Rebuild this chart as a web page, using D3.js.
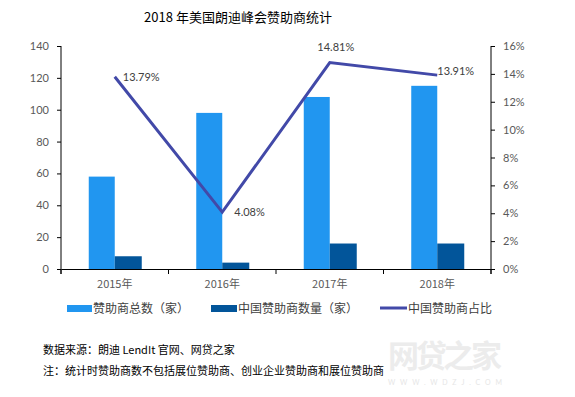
<!DOCTYPE html>
<html><head><meta charset="utf-8">
<script src="https://cdn.jsdelivr.net/npm/d3@7"></script>
<style>body{margin:0;background:#fff}svg{display:block}</style>
</head><body>
<script>
const categories = ["2015年","2016年","2017年","2018年"];
const totalSponsors = [58, 98, 108, 115];
const chinaSponsors = [8, 4, 16, 16];
const chinaShare = [13.79, 4.08, 14.81, 13.91];
const leftTicks = [0,20,40,60,80,100,120,140];
const rightTicks = [0,2,4,6,8,10,12,14,16];
const seriesNames = ["赞助商总数（家）","中国赞助商数量（家）","中国赞助商占比"];
const colors = ["#2196F0","#02559A","#4249A8"];

const W=575,H=397, L=61, R=491, T=46, B=269;
const svg=d3.select("body").append("svg").attr("width",W).attr("height",H);
const numFont="Lato, 'Liberation Sans', sans-serif";
const cjk="'Noto Sans CJK SC', sans-serif";

svg.append("text").attr("x",238).attr("y",22).attr("text-anchor","middle")
  .attr("font-family",cjk).attr("font-size",13).attr("fill","#000").text("2018 年美国朗迪峰会赞助商统计");

const x=d3.scaleBand().domain(categories).range([L,R]);
const yL=d3.scaleLinear().domain([0,140]).range([B,T]);
const yR=d3.scaleLinear().domain([0,16]).range([B,T]);
const bw=26;

const gB=svg.append("g");
gB.selectAll(".t").data(categories).enter().append("rect")
  .attr("x",d=>x(d)+x.bandwidth()/2-bw).attr("width",bw)
  .attr("y",(d,i)=>yL(totalSponsors[i])).attr("height",(d,i)=>B-yL(totalSponsors[i])).attr("fill",colors[0]);
gB.selectAll(".c").data(categories).enter().append("rect")
  .attr("x",d=>x(d)+x.bandwidth()/2).attr("width",bw+1)
  .attr("y",(d,i)=>yL(chinaSponsors[i])).attr("height",(d,i)=>B-yL(chinaSponsors[i])).attr("fill",colors[1]);

// axes
const axL=svg.append("g").attr("transform",`translate(${L},0)`)
  .call(d3.axisLeft(yL).tickValues(leftTicks).tickSize(4).tickSizeOuter(0).tickPadding(8));
const axR=svg.append("g").attr("transform",`translate(${R},0)`)
  .call(d3.axisRight(yR).tickValues(rightTicks).tickSize(4).tickSizeOuter(0).tickPadding(8).tickFormat(d=>d+"%"));
const axX=svg.append("g").attr("transform",`translate(0,${B})`)
  .call(d3.axisBottom(x).tickSize(0).tickPadding(11));
const bounds=categories.map(c=>x(c)).concat([R]);
svg.append("g").selectAll("line").data(bounds).enter().append("line")
  .attr("x1",d=>d).attr("x2",d=>d).attr("y1",B).attr("y2",B+5).attr("stroke","#000");
[axL,axR,axX].forEach(a=>{
  a.selectAll("path,line").attr("stroke","#000");
  a.selectAll("text").attr("fill","#595959").attr("font-family",numFont).attr("font-size",11);
});
axX.selectAll("text").attr("font-family",cjk).attr("font-size",11);
axL.select("path").attr("d",`M0,${B+5}V${T}`);
axR.select("path").attr("d",`M0,${B+5}V${T}`);

// line
const line=d3.line().x((d,i)=>x(categories[i])+x.bandwidth()/2).y(d=>yR(d));
svg.append("path").datum(chinaShare).attr("d",line).attr("fill","none")
  .attr("stroke",colors[2]).attr("stroke-width",3);
const offs=[[8,4],[12,4],[6,-12],[0,0]];
svg.append("g").selectAll("text").data(chinaShare).enter().append("text")
  .attr("x",(d,i)=>x(categories[i])+x.bandwidth()/2+offs[i][0])
  .attr("y",(d,i)=>yR(d)+offs[i][1])
  .attr("text-anchor",(d,i)=>i==2?"middle":"start")
  .attr("font-family",numFont).attr("font-size",11).attr("fill","#404040")
  .text(d=>d.toFixed(2)+"%");

// legend
const lg=[{x:67,w:25,t:"rect"},{x:211,w:26,t:"rect"},{x:380,w:27,t:"line"}];
lg.forEach((l,i)=>{
  if(l.t==="rect") svg.append("rect").attr("x",l.x).attr("y",305).attr("width",l.w).attr("height",7).attr("fill",colors[i]);
  else svg.append("line").attr("x1",l.x).attr("x2",l.x+l.w).attr("y1",308).attr("y2",308).attr("stroke",colors[i]).attr("stroke-width",3);
  svg.append("text").attr("x",l.x+l.w+1).attr("y",312.5).attr("font-family",cjk).attr("font-size",12)
    .attr("fill","#404040").text(seriesNames[i]);
});

// watermark
svg.append("text").attr("x",388).attr("y",367).attr("font-family",cjk).attr("font-weight","bold")
  .attr("font-size",31).attr("fill","#ececec").attr("textLength",114).text("网贷之家");
svg.append("text").attr("x",388).attr("y",385).attr("font-family",numFont)
  .attr("font-size",7).attr("fill","#e6e6e6").attr("textLength",114).text("WWW.WDZJ.COM");

// notes
svg.append("text").attr("x",43).attr("y",354).attr("font-family",cjk).attr("font-size",11)
  .attr("fill","#000").text("数据来源：朗迪 LendIt 官网、网贷之家");
svg.append("text").attr("x",43).attr("y",375).attr("font-family",cjk).attr("font-size",11)
  .attr("fill","#000").text("注：统计时赞助商数不包括展位赞助商、创业企业赞助商和展位赞助商");
</script>
</body></html>
